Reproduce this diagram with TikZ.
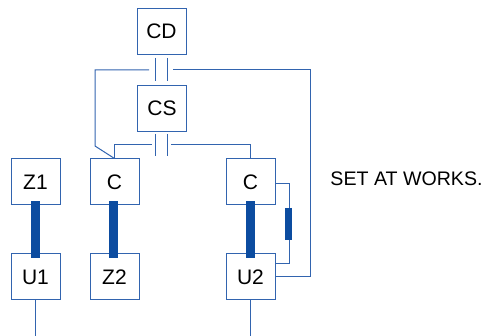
\documentclass[tikz,border=0pt]{standalone}
\usepackage{fontspec}
\setmainfont{Liberation Sans}
\usepackage{tikz}
\usetikzlibrary{calc,positioning}
\definecolor{wire}{RGB}{50,100,175}
\definecolor{barblue}{RGB}{12,76,160}

\begin{document}
\begin{tikzpicture}[x=1pt, y=-1pt,
  box/.style={draw=wire, line width=1pt, minimum width=49pt, minimum height=46pt, inner sep=0pt, font=\fontsize{21}{24}\selectfont},
  wr/.style={draw=wire, line width=1pt},
  thick bar/.style={draw=barblue, line width=9pt},
  thin bar/.style={draw=barblue, line width=7pt}]
\useasboundingbox (0,0) rectangle (487,336);
\node[box] (CD) at (161.5,31.5) {CD};
\node[box] (CS) at (162,108.5) {CS};
\node[box] (Z1) at (35.5,182) {Z1};
\node[box] (CA) at (114.5,182) {C};
\node[box] (CB) at (250.5,182) {C};
\node[box] (U1) at (35.5,277) {U1};
\node[box] (Z2) at (114.5,277) {Z2};
\node[box] (U2) at (250.5,277) {U2};
\node[font=\fontsize{19.6}{22}\selectfont] (note) at (406.5,179) {SET AT WORKS.};
% contacts between CD and CS
\coordinate (k1) at (149,70);
\coordinate (k2) at (173,70);
\draw[wr] ($(CD.south)+(-6.5,3)$) -- ($(CS.north)+(-7,-4)$);
\draw[wr] ($(CD.south)+(5.5,3)$) -- ($(CS.north)+(5,-4)$);
\draw[wr] (k1) -- (95,70) -- (95,146) -- (CA.north);
\draw[wr] (k2) -- (310,70) |- (U2.east);
% contacts below CS
\coordinate (k3) at (152,145);
\coordinate (k4) at (171,145);
\draw[wr] ($(CS.south)+(-7,2)$) -- ++(0,22);
\draw[wr] ($(CS.south)+(5,2)$) -- ++(0,22);
\draw[wr] (k3) -- (CA.north |- k3) -- (CA.north);
\draw[wr] (k4) -- (CB.north |- k4) -- (CB.north);
% side branch with small bar
\draw[wr] (CB.east |- 0,184) -- (289,184) -- (289,264) -- (U2.east |- 0,264);
\draw[thin bar] (288,208) -- (288,240);
% thick bars
\draw[thick bar] ([yshift=4pt]Z1.south) -- ([yshift=-5pt]U1.north);
\draw[thick bar] ([xshift=-1.5pt,yshift=4pt]CA.south) -- ([xshift=-1.5pt,yshift=-5pt]Z2.north);
\draw[thick bar] ([yshift=4pt]CB.south) -- ([yshift=-5pt]U2.north);
% leads
\coordinate (e1) at (U1.south |- 0,336);
\coordinate (e2) at (U2.south |- 0,336);
\draw[wr] (U1.south) -- (e1);
\draw[wr] (U2.south) -- (e2);
\end{tikzpicture}
\end{document}
